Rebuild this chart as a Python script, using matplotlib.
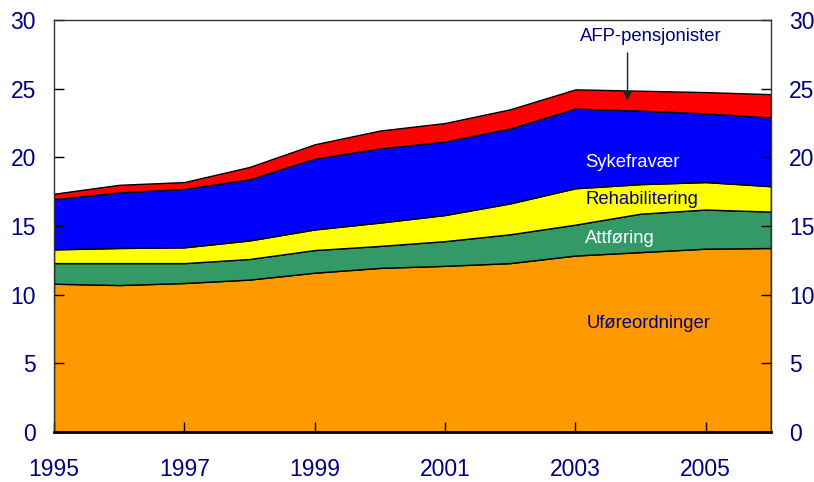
import matplotlib
matplotlib.use("Agg")
import matplotlib.pyplot as plt

plt.rcParams["font.family"] = ["Liberation Sans", "DejaVu Sans"]

years = [1995, 1996, 1997, 1998, 1999, 2000, 2001, 2002, 2003, 2004, 2005, 2006]

# components of the stack
ufore = [10.8, 10.7, 10.85, 11.1, 11.6, 11.95, 12.1, 12.3, 12.85, 13.1, 13.35, 13.4]
attforing = [1.5, 1.6, 1.45, 1.5, 1.65, 1.6, 1.8, 2.1, 2.25, 2.8, 2.85, 2.65]
rehab = [1.0, 1.1, 1.15, 1.35, 1.5, 1.7, 1.9, 2.25, 2.65, 2.15, 2.0, 1.85]
sykefravaer = [3.65, 4.05, 4.25, 4.45, 5.15, 5.4, 5.35, 5.45, 5.8, 5.35, 5.0, 5.0]
afp = [0.4, 0.55, 0.5, 0.9, 1.05, 1.3, 1.35, 1.4, 1.4, 1.45, 1.55, 1.7]

colors = ["#ff9900", "#339966", "#ffff00", "#0000ff", "#ff0000"]
NAVY = "#000080"

fig = plt.figure(figsize=(8.14, 4.82), dpi=100)
ax = fig.add_axes([0.0663, 0.1037, 0.8808, 0.8548])

ax.stackplot(years, ufore, attforing, rehab, sykefravaer, afp,
             colors=colors, edgecolor="black", linewidth=1.0)

ax.set_xlim(1995, 2006)
ax.set_ylim(0, 30)
ax.set_xticks([1995, 1997, 1999, 2001, 2003, 2005])
ax.set_yticks([0, 5, 10, 15, 20, 25, 30])

for side in ["left", "right", "top"]:
    ax.spines[side].set_color("#333333")
    ax.spines[side].set_linewidth(1.0)
ax.spines["bottom"].set_color("black")
ax.spines["bottom"].set_linewidth(2.0)

# ticks point inward, labels on both sides
ax.tick_params(axis="y", direction="in", length=7, width=1, left=True, right=True,
               labelleft=True, labelright=True, labelsize=16.5, labelcolor=NAVY, pad=13)
ax.tick_params(axis="x", direction="in", length=7, width=1, labelsize=16.5,
               labelcolor=NAVY, pad=18.5)

ax.text(2003.15, 19.66, "Sykefravær", color="white", fontsize=13.3, ha="left", va="center")
ax.text(2003.15, 16.9, "Rehabilitering", color=NAVY, fontsize=13.3, ha="left", va="center")
ax.text(2003.15, 14.06, "Attføring", color="white", fontsize=13.3, ha="left", va="center")
ax.text(2003.17, 7.87, "Uføreordninger", color=NAVY, fontsize=13.3, ha="left", va="center")
ax.text(2004.16, 28.77, "AFP-pensjonister", color=NAVY, fontsize=13.3, ha="center", va="center")
ax.annotate("", xy=(2003.8, 23.95), xytext=(2003.8, 27.8),
            arrowprops=dict(arrowstyle="-|>", color="#222222", lw=1.0, mutation_scale=12))

fig.savefig("out.png", dpi=100)
